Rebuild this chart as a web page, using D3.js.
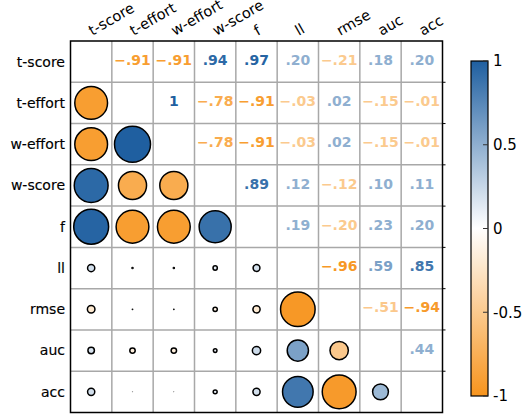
<!DOCTYPE html>
<html><head><meta charset="utf-8">
<script src="https://cdn.jsdelivr.net/npm/d3@7"></script>
<style>body{margin:0;background:#fff}svg{display:block;font-family:"DejaVu Sans",sans-serif}</style>
</head><body>
<svg id="c" width="525" height="415"></svg>
<script>
const variables = ["t-score","t-effort","w-effort","w-score","f","ll","rmse","auc","acc"];
const corr = [
  [ 1.00,-0.91,-0.91, 0.94, 0.97, 0.20,-0.21, 0.18, 0.20],
  [-0.91, 1.00, 1.00,-0.78,-0.91,-0.03, 0.02,-0.15,-0.01],
  [-0.91, 1.00, 1.00,-0.78,-0.91,-0.03, 0.02,-0.15,-0.01],
  [ 0.94,-0.78,-0.78, 1.00, 0.89, 0.12,-0.12, 0.10, 0.11],
  [ 0.97,-0.91,-0.91, 0.89, 1.00, 0.19,-0.20, 0.23, 0.20],
  [ 0.20,-0.03,-0.03, 0.12, 0.19, 1.00,-0.96, 0.59, 0.85],
  [-0.21, 0.02, 0.02,-0.12,-0.20,-0.96, 1.00,-0.51,-0.94],
  [ 0.18,-0.15,-0.15, 0.10, 0.23, 0.59,-0.51, 1.00, 0.44],
  [ 0.20,-0.01,-0.01, 0.11, 0.20, 0.85,-0.94, 0.44, 1.00]
];
const cbTicks = [1, 0.5, 0, -0.5, -1];

const svg = d3.select("#c");
const x = d3.scaleBand().domain(variables).range([70.5, 442.5]);
const y = d3.scaleBand().domain(variables).range([41, 412.5]);
const color = d3.scaleLinear().domain([-1, 0, 1]).range(["#f7941d", "#ffffff", "#1f5fa0"]);
const rScale = d3.scaleLinear().domain([0, 1]).range([0, 18]);
const fmt = v => v === 1 ? "1" : d3.format(".2f")(v).replace("0.", ".");

const cells = [];
variables.forEach((rv, i) => variables.forEach((cv, j) => cells.push({i, j, rv, cv, v: corr[i][j]})));

// grid lines
const g = svg.append("g");
variables.forEach((v, k) => {
  if (k > 0) {
    g.append("line").attr("x1", x(v)).attr("x2", x(v)).attr("y1", y.range()[0]).attr("y2", y.range()[1])
      .attr("stroke", "#a8a8a8").attr("stroke-width", 1.5);
    g.append("line").attr("y1", y(v)).attr("y2", y(v)).attr("x1", x.range()[0]).attr("x2", x.range()[1])
      .attr("stroke", "#a8a8a8").attr("stroke-width", 1.5);
    g.append("line").attr("x1", x.range()[1]).attr("x2", x.range()[1] + 3).attr("y1", y(v)).attr("y2", y(v))
      .attr("stroke", "#000").attr("stroke-width", 1);
  }
});

// circles (lower triangle)
svg.append("g").selectAll("circle").data(cells.filter(d => d.i > d.j)).join("circle")
  .attr("cx", d => x(d.cv) + x.bandwidth() / 2)
  .attr("cy", d => y(d.rv) + y.bandwidth() / 2)
  .attr("r", d => rScale(Math.abs(d.v)))
  .attr("fill", d => color(d.v))
  .attr("stroke", "#000")
  .attr("stroke-width", d => Math.min(1.5, rScale(Math.abs(d.v)) * 3));

// texts (upper triangle)
svg.append("g").selectAll("text").data(cells.filter(d => d.i < d.j)).join("text")
  .attr("x", d => x(d.cv) + x.bandwidth() / 2)
  .attr("y", d => y(d.rv) + y.bandwidth() / 2)
  .attr("text-anchor", "middle").attr("dy", "0.22em")
  .attr("font-size", 14).attr("font-weight", "bold")
  .attr("fill", d => color(Math.sign(d.v) * Math.max(Math.abs(d.v), 0.5)))
  .text(d => fmt(d.v));

// outer border
svg.append("rect").attr("x", x.range()[0]).attr("y", y.range()[0])
  .attr("width", x.range()[1] - x.range()[0]).attr("height", y.range()[1] - y.range()[0])
  .attr("fill", "none").attr("stroke", "#000").attr("stroke-width", 1.5);

// row labels
svg.append("g").selectAll("text").data(variables).join("text")
  .attr("x", 65).attr("y", d => y(d) + y.bandwidth() / 2).attr("dy", "0.35em")
  .attr("text-anchor", "end").attr("font-size", 14).attr("fill", "#000")
  .attr("stroke", "#000").attr("stroke-width", 0.15).text(d => d);

// column labels
svg.append("g").selectAll("text").data(variables).join("text")
  .attr("transform", d => `translate(${x(d) + x.bandwidth() / 2 + 1},36) rotate(-30)`)
  .attr("font-size", 14.5).attr("fill", "#000").text(d => d);

// colorbar
const cbX = 471, cbW = 17;
const cy = d3.scaleLinear().domain([-1, 1]).range([396, 61]);
const defs = svg.append("defs");
const grad = defs.append("linearGradient").attr("id", "cb").attr("x1", 0).attr("y1", 1).attr("x2", 0).attr("y2", 0);
d3.range(-1, 1.001, 0.1).forEach(v => grad.append("stop").attr("offset", (v + 1) / 2).attr("stop-color", color(v)));
svg.append("rect").attr("x", cbX).attr("y", cy(1)).attr("width", cbW).attr("height", cy(-1) - cy(1))
  .attr("fill", "url(#cb)").attr("stroke", "#000").attr("stroke-width", 1.2);
const cbg = svg.append("g");
cbTicks.forEach(t => {
  cbg.append("line").attr("x1", cbX + cbW - 5).attr("x2", cbX + cbW).attr("y1", cy(t)).attr("y2", cy(t))
    .attr("stroke", "#333").attr("stroke-width", 1);
  cbg.append("text").attr("x", cbX + cbW + 5).attr("y", cy(t)).attr("dy", "0.36em")
    .attr("font-size", 15).attr("fill", "#000").text(t);
});
</script>
</body></html>
